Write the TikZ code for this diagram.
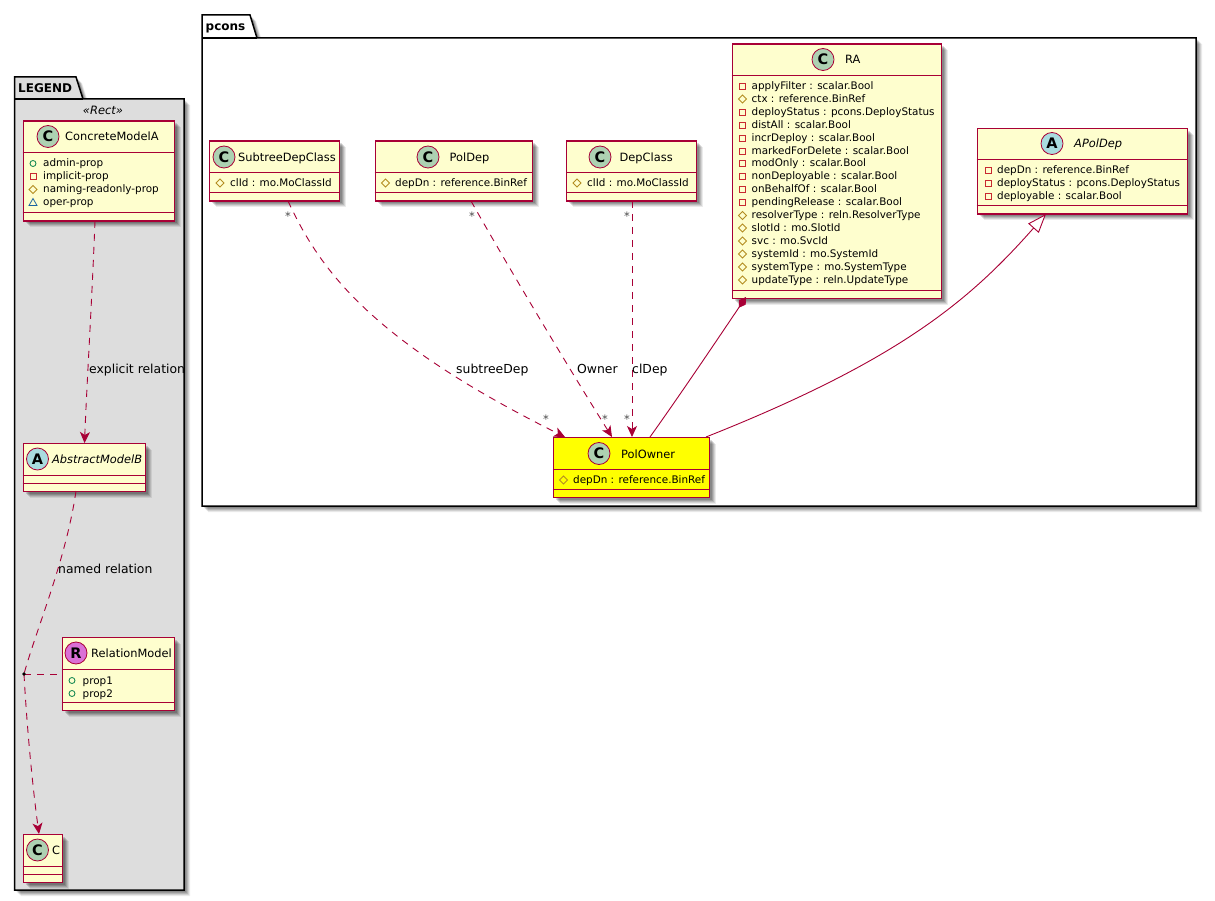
\documentclass[tikz,border=0pt]{standalone}
\usepackage{fontspec}
\setmainfont{DejaVu Sans}
\usetikzlibrary{arrows.meta,calc}
\definecolor{umlborder}{HTML}{A80036}
\definecolor{umlfill}{HTML}{FEFECE}
\definecolor{umlyellow}{HTML}{FFFF00}
\definecolor{circC}{HTML}{ADD1B2}
\definecolor{circA}{HTML}{A9DCDF}
\definecolor{circR}{HTML}{DA70D6}
\definecolor{pkgfill}{HTML}{DDDDDD}
\definecolor{visPub}{HTML}{038048}
\definecolor{visPriv}{HTML}{C82930}
\definecolor{visProt}{HTML}{B38D22}
\definecolor{visPack}{HTML}{1963A0}
\newcommand{\mfont}{\fontsize{10.4}{12}\selectfont}
\newcommand{\tfont}{\fontsize{11.4}{14}\selectfont}
\newcommand{\lfont}{\fontsize{12.4}{14}\selectfont}
\newcounter{memb}
\tikzset{
  classbox/.style={draw=umlborder,line width=1.1pt,inner sep=0pt,anchor=north west},
  sepline/.style={draw=umlborder,line width=.9pt},
  badge/.style={circle,draw=umlborder,line width=.8pt,minimum size=22pt,inner sep=0pt,font=\fontsize{14.5}{15}\selectfont\bfseries},
  titletext/.style={anchor=base west,inner sep=0pt,font=\tfont},
  membtext/.style={anchor=base west,inner sep=0pt,font=\mfont},
  edgelabel/.style={anchor=base west,inner sep=0pt,font=\lfont},
  multi/.style={anchor=center,inner sep=0pt,font=\fontsize{11.5}{14}\selectfont,text=black!70},
  rel/.style={draw=umlborder,line width=.9pt},
  reld/.style={rel,dash pattern=on 7pt off 6pt},
  openarr/.style={-{Stealth[inset=3pt,length=11pt,width=10pt]}},
  pkg/.style={draw=black,line width=1.5pt},
}
% name x1 y1 x2 y2 sep1 sep2 fill
\newcommand{\umlclass}[8]{%
  \foreach \o/\a in {7/.08,6/.1,5/.12,4/.14,3/.14}{
    \fill[black,opacity=\a] (#2+\o,#3+\o) rectangle (#4+\o,#5+\o);}
  \node[classbox,fill=#8,minimum width=#4pt-#2pt,minimum height=#5pt-#3pt] (#1) at (#2,#3) {};
  \draw[sepline] (#2,#6) -- (#4,#6);
  \draw[sepline] (#2,#7) -- (#4,#7);
}
% name cx cy letter color
\newcommand{\badge}[5]{\node[badge,fill=#5] (#1) at (#2,#3) {#4};}
% kind xmark xtext y text
\newcommand{\member}[5]{%
  \stepcounter{memb}%
  \node[membtext] (memb\arabic{memb}) at (#3,#4+3.5) {#5};
  \ifcase#1\relax
    \draw[visPub,line width=.8pt] (#2,#4) circle (3pt);
  \or
    \draw[visPriv,line width=.8pt] (#2-3,#4-3) rectangle (#2+3,#4+3);
  \or
    \draw[visProt,line width=.8pt] (#2-4,#4) -- (#2,#4-4) -- (#2+4,#4) -- (#2,#4+4) -- cycle;
  \or
    \draw[visPack,line width=.8pt] (#2-4,#4+3) -- (#2,#4-4) -- (#2+4,#4+3) -- cycle;
  \fi
}
% package: x1 x2 ytab ybody ybottom xtabtop xtabbottom
\newcommand{\pkgshadow}[7]{%
  \foreach \o/\a in {6/.08,5/.1,4/.12,3/.14,2/.14}{
    \fill[black,opacity=\a] (#1+\o,#4+\o) -- (#1+\o,#3+\o) -- (#6+\o,#3+\o) -- (#7+\o,#4+\o) -- (#2+\o,#4+\o) -- (#2+\o,#5+\o) -- (#1+\o,#5+\o) -- cycle;}
}
\begin{document}
\begin{tikzpicture}[x=1pt,y=-1pt]
\useasboundingbox (0,0) rectangle (1215,901);
% packages
\pkgshadow{202}{1196}{15}{38}{506}{250}{257}
\draw[pkg,fill=white] (202,38) -- (202,15) -- (250,15) -- (257,38) -- (1196,38) -- (1196,506) -- (202,506) -- cycle;
\draw[pkg] (202,38) -- (257,38);
\node[anchor=base west,inner sep=0pt,font=\fontsize{12}{14}\selectfont\bfseries] (pconsname) at (205.5,31) {pcons};
\pkgshadow{14.5}{184}{77}{99}{890}{76}{83}
\draw[pkg,fill=pkgfill] (14.5,99) -- (14.5,77) -- (76,77) -- (83,99) -- (184,99) -- (184,890) -- (14.5,890) -- cycle;
\draw[pkg] (14.5,99) -- (83,99);
\node[anchor=base west,inner sep=0pt,font=\fontsize{12}{14}\selectfont\bfseries] (legendname) at (18,93) {LEGEND};
\node[anchor=base,inner sep=0pt,font=\fontsize{11.5}{14}\selectfont\itshape] (stereo) at (103,115) {«Rect»};

% classes
\umlclass{cma}{22.5}{120.5}{173.5}{220.5}{152.5}{212.5}{umlfill}
\badge{bcma}{48}{136.5}{C}{circC}
\node[titletext] (tcma) at (65,141) {ConcreteModelA};
\member{0}{33}{43}{163.5}{admin-prop}
\member{1}{33}{43}{176.5}{implicit-prop}
\member{2}{33}{43}{189.5}{naming-readonly-prop}
\member{3}{33}{43}{202.5}{oper-prop}

\umlclass{amb}{22.5}{443}{144.5}{491}{475}{483}{umlfill}
\badge{bamb}{37.5}{459}{A}{circA}
\node[titletext,font=\tfont\itshape] (tamb) at (52,463.5) {AbstractModelB};

\umlclass{rm}{61.5}{637}{174}{710}{669}{702}{umlfill}
\badge{brm}{76}{653}{R}{circR}
\node[titletext] (trm) at (91,657.5) {RelationModel};
\member{0}{72}{82.5}{680.5}{prop1}
\member{0}{72}{82.5}{693.5}{prop2}

\umlclass{cc}{22.5}{834}{62}{882}{866}{874}{umlfill}
\badge{bcc}{37.5}{850}{C}{circC}
\node[titletext] (tcc) at (52,854.5) {C};

\umlclass{sdc}{209}{140.5}{339}{200.5}{172.5}{192.5}{umlfill}
\badge{bsdc}{224}{157}{C}{circC}
\node[titletext] (tsdc) at (238,161.5) {SubtreeDepClass};
\member{2}{220}{230}{183}{clId : mo.MoClassId}

\umlclass{pd}{374.5}{140.5}{531.5}{200.5}{172.5}{192.5}{umlfill}
\badge{bpd}{428}{157}{C}{circC}
\node[titletext] (tpd) at (449.5,161.5) {PolDep};
\member{2}{385.5}{395}{183}{depDn : reference.BinRef}

\umlclass{dc}{566}{140.5}{695.5}{200.5}{172.5}{192.5}{umlfill}
\badge{bdc}{600}{157}{C}{circC}
\node[titletext] (tdc) at (619.5,161.5) {DepClass};
\member{2}{577}{587}{183}{clId : mo.MoClassId}

\umlclass{ra}{731.5}{43.5}{941}{298}{75}{290}{umlfill}
\badge{bra}{823}{59.5}{C}{circC}
\node[titletext] (tra) at (845,64) {RA};
\member{1}{742.5}{751.5}{86}{applyFilter : scalar.Bool}
\member{2}{742.5}{751.5}{99}{ctx : reference.BinRef}
\member{1}{742.5}{751.5}{112}{deployStatus : pcons.DeployStatus}
\member{1}{742.5}{751.5}{125}{distAll : scalar.Bool}
\member{1}{742.5}{751.5}{138}{incrDeploy : scalar.Bool}
\member{1}{742.5}{751.5}{151}{markedForDelete : scalar.Bool}
\member{1}{742.5}{751.5}{163.5}{modOnly : scalar.Bool}
\member{1}{742.5}{751.5}{176.5}{nonDeployable : scalar.Bool}
\member{1}{742.5}{751.5}{189.5}{onBehalfOf : scalar.Bool}
\member{1}{742.5}{751.5}{202.5}{pendingRelease : scalar.Bool}
\member{2}{742.5}{751.5}{215.5}{resolverType : reln.ResolverType}
\member{2}{742.5}{751.5}{228}{slotId : mo.SlotId}
\member{2}{742.5}{751.5}{241}{svc : mo.SvcId}
\member{2}{742.5}{751.5}{254}{systemId : mo.SystemId}
\member{2}{742.5}{751.5}{267}{systemType : mo.SystemType}
\member{2}{742.5}{751.5}{280}{updateType : reln.UpdateType}

\umlclass{apd}{976.5}{128}{1187}{213.5}{159}{205}{umlfill}
\badge{bapd}{1052}{143.5}{A}{circA}
\node[titletext,font=\tfont\itshape] (tapd) at (1074,148) {APolDep};
\member{1}{988}{997}{170}{depDn : reference.BinRef}
\member{1}{988}{997}{183}{deployStatus : pcons.DeployStatus}
\member{1}{988}{997}{196}{deployable : scalar.Bool}

\umlclass{po}{552.5}{437}{709}{497}{469}{489}{umlyellow}
\badge{bpo}{599}{453.5}{C}{circC}
\node[titletext] (tpo) at (621,458) {PolOwner};
\member{2}{563.5}{573}{480}{depDn : reference.BinRef}

% edges
\coordinate (j) at (24,674);
\draw[reld,openarr] (95,221) .. controls (92,300) and (87,380) .. (84.5,443);
\draw[reld] (76,491) .. controls (66,560) and (36,630) .. (j);
\draw[reld,openarr] (j) .. controls (27,730) and (33,790) .. (39,834);
\draw[reld] (j) -- (rm.west |- j);
\fill[black] (j) circle (1.8pt);
\draw[reld,openarr] (288,201) .. controls (320,270) and (370,340) .. (565,437);
\draw[reld,openarr] (471,201) .. controls (510,270) and (570,370) .. (612,437);
\draw[reld,openarr] (632,201) -- (632,437);
\draw[rel,{Diamond[length=13pt,width=8pt,fill=umlborder]}-] (746,297) .. controls (717,340) and (680,395) .. (650,437);
\draw[rel,{Triangle[open,length=19pt,width=14pt,fill=white]}-] (1046,214) .. controls (970,300) and (900,360) .. (706,437);

% labels
\node[edgelabel] (l1) at (89,373) {explicit relation};
\node[edgelabel] (l2) at (58,573) {named relation};
\node[edgelabel] (l3) at (456,373) {subtreeDep};
\node[edgelabel] (l4) at (577,373) {Owner};
\node[edgelabel] (l5) at (632,373) {clDep};
\node[multi] (s1) at (288,216) {*};
\node[multi] (s2) at (546,419) {*};
\node[multi] (s3) at (472,216) {*};
\node[multi] (s4) at (605,419) {*};
\node[multi] (s5) at (627,216) {*};
\node[multi] (s6) at (627,419) {*};
\end{tikzpicture}
\end{document}
